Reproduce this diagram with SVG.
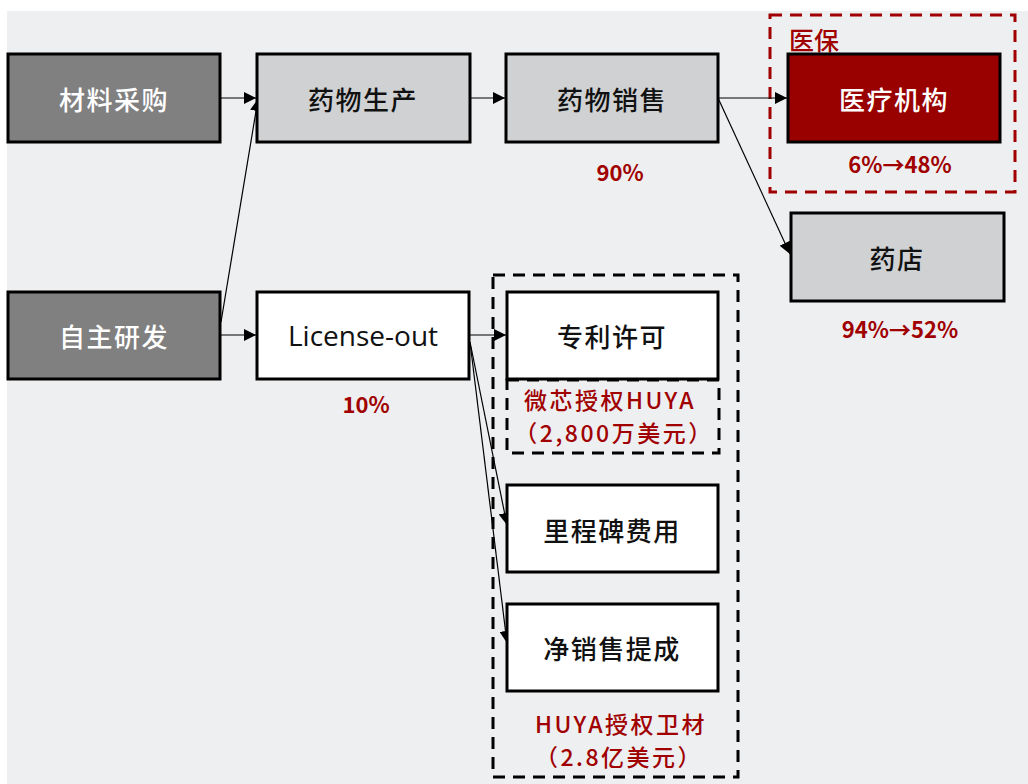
<svg xmlns="http://www.w3.org/2000/svg" width="1028" height="784" viewBox="0 0 1028 784">
<defs>
<marker id="arr" viewBox="0 0 10 10" refX="10" refY="5" markerWidth="12" markerHeight="12" markerUnits="userSpaceOnUse" orient="auto">
<path d="M0,0 L10,5 L0,10 Z" fill="#000"/>
</marker>
<style>
.box{stroke:#000;stroke-width:3}
.dark{fill:#808080}
.light{fill:#D0D1D3}
.white{fill:#fff}
.red{fill:#990000}
.t{font-family:"Noto Sans CJK SC","Noto Sans",sans-serif;font-size:26px;font-weight:500;text-anchor:middle;dominant-baseline:central;letter-spacing:1.5px}
.tw{fill:#fff}
.tb{fill:#111}
.t.latin{font-family:"Open Sans","Liberation Sans",sans-serif;font-size:28px;font-weight:normal;letter-spacing:0}
.lab{font-family:"Noto Sans CJK SC","Noto Sans",sans-serif;font-size:22px;fill:#A00000;text-anchor:middle;font-weight:bold;dominant-baseline:central}
.lab2{font-family:"Noto Sans CJK SC","Noto Sans",sans-serif;font-size:23px;fill:#A00000;text-anchor:middle;font-weight:500;dominant-baseline:central;letter-spacing:2.5px}
.conn{stroke:#000;stroke-width:1.2;fill:none;marker-end:url(#arr)}
</style>
</defs>
<rect x="0" y="0" width="1028" height="784" fill="#fff"/>
<rect x="7" y="11" width="1021" height="773" fill="#EEEFF1"/>

<g id="group-yibao">
<rect x="770" y="15" width="245" height="177" fill="none" stroke="#A00000" stroke-width="3" stroke-dasharray="12,8"/>
<text x="789" y="50" font-family="Noto Sans CJK SC,sans-serif" font-size="25" font-weight="500" fill="#A00000">医保</text>
</g>
<g id="group-license">
<rect x="493" y="275" width="245" height="502" fill="none" stroke="#000" stroke-width="3" stroke-dasharray="12,8"/>
</g>
<g id="group-weixin">
<rect x="507" y="380" width="212" height="73" fill="none" stroke="#000" stroke-width="3" stroke-dasharray="12,8"/>
</g>

<g id="connectors">
<line class="conn" x1="221" y1="98" x2="256" y2="98"/>
<line class="conn" x1="221" y1="322" x2="258" y2="99"/>
<line class="conn" x1="221" y1="335" x2="256" y2="335"/>
<line class="conn" x1="471" y1="98" x2="505" y2="98"/>
<line class="conn" x1="718" y1="98" x2="787" y2="98"/>
<line class="conn" x1="718" y1="98" x2="790" y2="254"/>
<line class="conn" x1="470" y1="335" x2="506" y2="335"/>
<line class="conn" x1="470" y1="342" x2="507" y2="525"/>
<line class="conn" x1="470" y1="342" x2="507" y2="643"/>
</g>

<g id="node-cailiao">
<rect class="box dark" x="8" y="54" width="212" height="88"/>
<text class="t tw" x="114" y="98">材料采购</text>
</g>
<g id="node-shengchan">
<rect class="box light" x="257" y="54" width="213" height="88"/>
<text class="t tb" x="363" y="98">药物生产</text>
</g>
<g id="node-xiaoshou">
<rect class="box light" x="506" y="54" width="212" height="88"/>
<text class="t tb" x="612" y="98">药物销售</text>
</g>
<g id="node-yiliao">
<rect class="box red" x="788" y="54" width="212" height="88"/>
<text class="t tw" x="894" y="98">医疗机构</text>
</g>
<g id="node-yaodian">
<rect class="box light" x="791" y="213" width="213" height="88"/>
<text class="t tb" x="897" y="257">药店</text>
</g>
<g id="node-zizhu">
<rect class="box dark" x="8" y="292" width="212" height="87"/>
<text class="t tw" x="114" y="335">自主研发</text>
</g>
<g id="node-license">
<rect class="box white" x="257" y="292" width="212" height="87"/>
<text class="t tb latin" x="363" y="335">License-out</text>
</g>
<g id="node-zhuanli">
<rect class="box white" x="507" y="292" width="211" height="87"/>
<text class="t tb" x="612" y="335">专利许可</text>
</g>
<g id="node-lichengbei">
<rect class="box white" x="507" y="485" width="211" height="87"/>
<text class="t tb" x="612" y="529">里程碑费用</text>
</g>
<g id="node-jingxiaoshou">
<rect class="box white" x="507" y="604" width="211" height="87"/>
<text class="t tb" x="612" y="647">净销售提成</text>
</g>

<g id="labels">
<text class="lab" x="620" y="171">90%</text>
<text class="lab" x="900" y="163">6%→48%</text>
<text class="lab" x="900" y="328">94%→52%</text>
<text class="lab" x="366" y="403">10%</text>
<text class="lab2" x="610" y="399">微芯授权HUYA</text>
<text class="lab2" x="614" y="432">（2,800万美元）</text>
<text class="lab2" x="621" y="723">HUYA授权卫材</text>
<text class="lab2" x="619" y="756">（2.8亿美元）</text>
</g>
</svg>
